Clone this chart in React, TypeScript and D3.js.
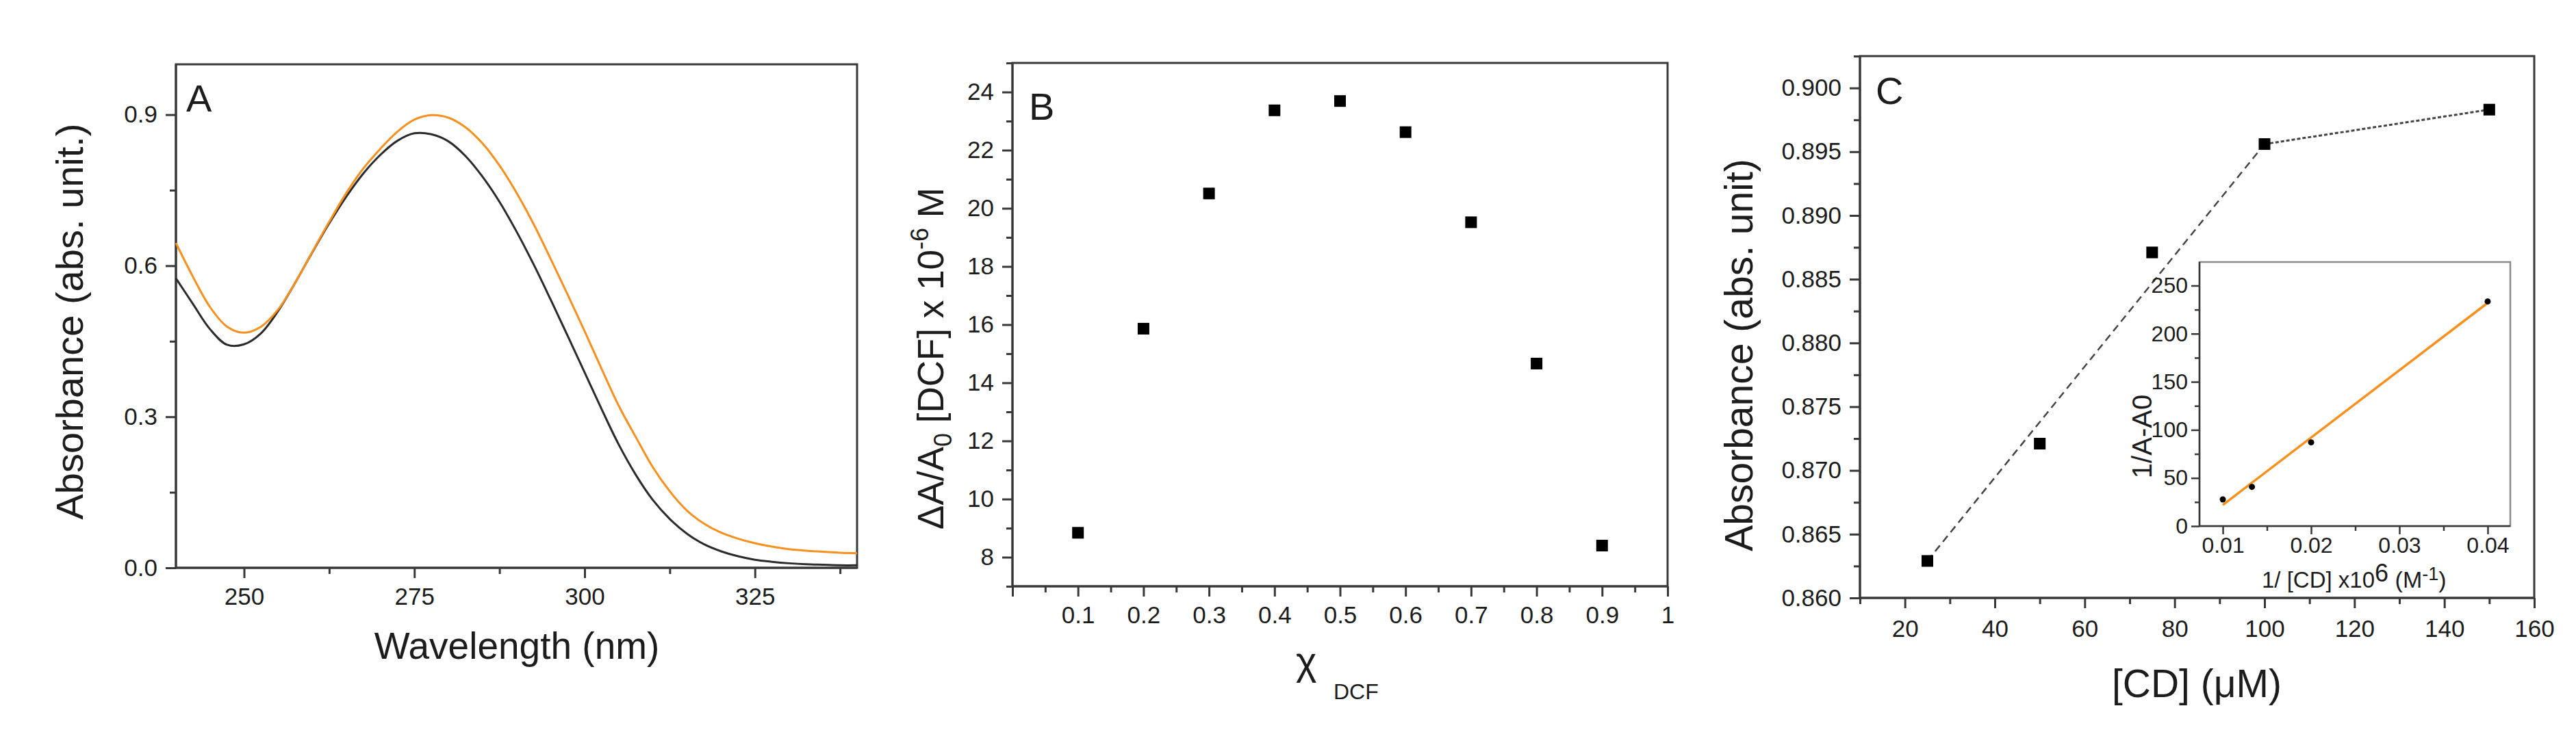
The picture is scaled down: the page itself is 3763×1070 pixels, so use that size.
import { useRef, useEffect } from 'react';
import * as d3 from 'd3';

// Panel A: UV-vis spectra
const wavelength = [
  240, 242.5, 245, 247.5, 250, 252.5, 255, 257.5, 260, 262.5, 265, 267.5, 270, 272.5, 275, 277.5, 280,
  282.5, 285, 287.5, 290, 292.5, 295, 297.5, 300, 302.5, 305, 307.5, 310, 312.5, 315, 317.5, 320, 322.5,
  325, 327.5, 330, 332.5, 335, 337.5, 340,
];
const absFree = [
  0.575, 0.524, 0.474, 0.443, 0.444, 0.466, 0.51, 0.566, 0.626, 0.684, 0.737, 0.783, 0.82, 0.848, 0.863,
  0.861, 0.847, 0.818, 0.777, 0.727, 0.668, 0.603, 0.533, 0.461, 0.388, 0.315, 0.245, 0.185, 0.135, 0.097,
  0.068, 0.047, 0.033, 0.023, 0.016, 0.012, 0.009, 0.007, 0.006, 0.005, 0.005,
];
const absComplex = [
  0.645, 0.578, 0.518, 0.479, 0.467, 0.479, 0.513, 0.566, 0.627, 0.687, 0.744, 0.793, 0.832, 0.866, 0.89,
  0.899, 0.894, 0.875, 0.843, 0.799, 0.745, 0.683, 0.614, 0.543, 0.47, 0.395, 0.322, 0.26, 0.2, 0.152,
  0.114, 0.088, 0.07, 0.058, 0.049, 0.042, 0.037, 0.034, 0.032, 0.03, 0.029,
];
const aXTicks = [250, 275, 300, 325];
const aXMinor = [262.5, 287.5, 312.5, 337.5];
const aYTicks = [0, 0.3, 0.6, 0.9];
const aYMinor = [0.15, 0.45, 0.75];

// Panel B: Job plot
const molarFraction = [0.1, 0.2, 0.3, 0.4, 0.5, 0.6, 0.7, 0.8, 0.9];
const jobSignal = [8.84, 15.86, 20.51, 23.37, 23.69, 22.62, 19.52, 14.66, 8.4];
const bXTicks = [0, 0.1, 0.2, 0.3, 0.4, 0.5, 0.6, 0.7, 0.8, 0.9, 1];
const bXMinor = [0.05, 0.15, 0.25, 0.35, 0.45, 0.55, 0.65, 0.75, 0.85, 0.95];
const bYTicks = [8, 10, 12, 14, 16, 18, 20, 22, 24];
const bYMinor = [7, 9, 11, 13, 15, 17, 19, 21, 23, 25];

// Panel C: titration
const cdConc = [25, 50, 75, 100, 150];
const cdAbs = [0.8629, 0.8721, 0.8871, 0.8956, 0.8983];
const cXTicks = [20, 40, 60, 80, 100, 120, 140, 160];
const cXMinor = [10, 30, 50, 70, 90, 110, 130, 150];
const cYTicks = [0.86, 0.865, 0.87, 0.875, 0.88, 0.885, 0.89, 0.895, 0.9];
const cYMinor = [0.8625, 0.8675, 0.8725, 0.8775, 0.8825, 0.8875, 0.8925, 0.8975, 0.9025];

// Inset: double reciprocal
const invConc = [0.01, 0.0133, 0.02, 0.04];
const invDeltaA = [27.7, 40.8, 87, 233.5];
const fitInvConc = [0.01, 0.04];
const fitInvDeltaA = [22, 232];
const iXTicks = [0.01, 0.02, 0.03, 0.04];
const iXMinor = [0.015, 0.025, 0.035];
const iYTicks = [0, 50, 100, 150, 200, 250];
const iYMinor = [25, 75, 125, 175, 225];

const FONT = "'Liberation Sans', Arial, Helvetica, sans-serif";
const INK = '#383838';
const TEXT = '#1c1c1c';
const ORANGE = '#f7901e';

function drawFrame(svg, x, y, o) {
  const [left, right] = x.range();
  const [bottom, top] = y.range();
  const g = svg.append('g');

  g.append('rect')
    .attr('x', left)
    .attr('y', top)
    .attr('width', right - left)
    .attr('height', bottom - top)
    .attr('fill', o.fill || 'none')
    .attr('stroke', o.boxInk || INK)
    .attr('stroke-width', o.width);

  const styleAxis = (sel) => {
    sel.select('.domain').remove();
    sel.selectAll('line').attr('stroke', INK).attr('stroke-width', o.width);
    sel
      .selectAll('text')
      .attr('fill', TEXT)
      .style('font-size', `${o.fontSize}px`)
      .style('font-family', FONT);
  };

  g.append('g')
    .attr('transform', `translate(0,${bottom})`)
    .call(d3.axisBottom(x).tickValues(o.xMinor).tickSize(o.minor).tickFormat(() => ''))
    .call(styleAxis);
  g.append('g')
    .attr('transform', `translate(0,${bottom})`)
    .call(d3.axisBottom(x).tickValues(o.xTicks).tickSize(o.major).tickPadding(o.xPad).tickFormat(o.xFormat))
    .call(styleAxis);
  g.append('g')
    .attr('transform', `translate(${left},0)`)
    .call(d3.axisLeft(y).tickValues(o.yMinor).tickSize(o.minor).tickFormat(() => ''))
    .call(styleAxis);
  g.append('g')
    .attr('transform', `translate(${left},0)`)
    .call(d3.axisLeft(y).tickValues(o.yTicks).tickSize(o.major).tickPadding(o.yPad).tickFormat(o.yFormat))
    .call(styleAxis);

  // axis lines drawn on top of the box
  g.append('line')
    .attr('x1', left).attr('x2', right).attr('y1', bottom).attr('y2', bottom)
    .attr('stroke', INK).attr('stroke-width', o.width);
  g.append('line')
    .attr('x1', left).attr('x2', left).attr('y1', top).attr('y2', bottom)
    .attr('stroke', INK).attr('stroke-width', o.width);
  return g;
}

function label(svg, x, y, size, txt, anchor = 'start') {
  return svg
    .append('text')
    .attr('x', x)
    .attr('y', y)
    .attr('text-anchor', anchor)
    .attr('fill', TEXT)
    .style('font-family', FONT)
    .style('font-size', `${size}px`)
    .text(txt);
}

function App() {
  const svgRef = useRef(null);
  const width = 3763;
  const height = 1070;

  useEffect(() => {
    document.body.style.margin = '0';
    const svg = d3.select(svgRef.current);
    svg.selectAll('*').remove();
    svg.append('rect').attr('width', width).attr('height', height).attr('fill', '#fff');

    // ---------- Panel A ----------
    const xA = d3.scaleLinear().domain([240, 340]).range([257, 1252]);
    const yA = d3.scaleLinear().domain([0, 1]).range([830, 94]);
    drawFrame(svg, xA, yA, {
      width: 3, major: 15, minor: 9, fontSize: 35, xPad: 14, yPad: 12,
      xTicks: aXTicks, xMinor: aXMinor, yTicks: aYTicks, yMinor: aYMinor,
      xFormat: d3.format('d'), yFormat: d3.format('.1f'),
    });
    const lineA = (vals) =>
      d3.line().x((_, i) => xA(wavelength[i])).y((d) => yA(d)).curve(d3.curveCatmullRom.alpha(0.5))(vals);
    svg.append('path').attr('d', lineA(absFree)).attr('fill', 'none').attr('stroke', '#2b2b2b').attr('stroke-width', 3);
    svg.append('path').attr('d', lineA(absComplex)).attr('fill', 'none').attr('stroke', ORANGE).attr('stroke-width', 3);
    label(svg, 272, 163, 56, 'A');
    label(svg, 755, 963, 55, 'Wavelength (nm)', 'middle');
    label(svg, 0, 0, 56, 'Absorbance (abs. unit.)', 'middle').attr('transform', 'translate(121,470) rotate(-90)');

    // ---------- Panel B ----------
    const xB = d3.scaleLinear().domain([0, 1]).range([1479, 2436]);
    const yB = d3.scaleLinear().domain([7, 25]).range([857, 92]);
    drawFrame(svg, xB, yB, {
      width: 3, major: 15, minor: 9, fontSize: 35, xPad: 14, yPad: 12,
      xTicks: bXTicks, xMinor: bXMinor, yTicks: bYTicks, yMinor: bYMinor,
      xFormat: (d) => (d === 0 ? '' : d === 1 ? '1' : d.toFixed(1)), yFormat: d3.format('d'),
    });
    const sqB = 17;
    svg
      .append('g')
      .selectAll('rect')
      .data(molarFraction)
      .join('rect')
      .attr('x', (d) => xB(d) - sqB / 2)
      .attr('y', (_, i) => yB(jobSignal[i]) - sqB / 2)
      .attr('width', sqB)
      .attr('height', sqB)
      .attr('fill', '#000');
    label(svg, 1503, 175, 56, 'B');
    label(svg, 1893, 986, 58, 'χ');
    label(svg, 1948, 1022, 32, 'DCF');
    const tB = svg
      .append('text')
      .attr('transform', 'translate(1378,524) rotate(-90)')
      .attr('text-anchor', 'middle')
      .attr('fill', TEXT)
      .style('font-family', FONT)
      .style('font-size', '53px');
    tB.append('tspan').text('ΔA/A');
    tB.append('tspan').attr('dy', 12).style('font-size', '36px').text('0');
    tB.append('tspan').attr('dy', -12).text(' [DCF] x 10');
    tB.append('tspan').attr('dy', -22).style('font-size', '36px').text('-6');
    tB.append('tspan').attr('dy', 22).text(' M');

    // ---------- Panel C ----------
    const xC = d3.scaleLinear().domain([10, 160]).range([2717, 3702]);
    const yC = d3.scaleLinear().domain([0.86, 0.9025]).range([874, 82]);
    drawFrame(svg, xC, yC, {
      width: 3, major: 15, minor: 9, fontSize: 35, xPad: 17, yPad: 12,
      xTicks: cXTicks, xMinor: cXMinor, yTicks: cYTicks, yMinor: cYMinor,
      xFormat: d3.format('d'), yFormat: d3.format('.3f'),
    });
    const lineC = d3.line().x((d) => xC(d[0])).y((d) => yC(d[1]));
    const pts = cdConc.map((c, i) => [c, cdAbs[i]]);
    svg.append('path').attr('d', lineC([pts[0], pts[3]]))
      .attr('fill', 'none').attr('stroke', '#444').attr('stroke-width', 2.5).attr('stroke-dasharray', '11,7');
    svg.append('path').attr('d', lineC([pts[3], pts[4]]))
      .attr('fill', 'none').attr('stroke', '#444').attr('stroke-width', 3).attr('stroke-dasharray', '5,3');
    const sqC = 17;
    svg
      .append('g')
      .selectAll('rect')
      .data(pts)
      .join('rect')
      .attr('x', (d) => xC(d[0]) - sqC / 2)
      .attr('y', (d) => yC(d[1]) - sqC / 2)
      .attr('width', sqC)
      .attr('height', sqC)
      .attr('fill', '#000');
    label(svg, 2740, 152, 56, 'C');
    label(svg, 3209, 1019, 57, '[CD] (μM)', 'middle');
    label(svg, 0, 0, 57, 'Absorbance (abs. unit)', 'middle').attr('transform', 'translate(2560,519) rotate(-90)');

    // ---------- Inset ----------
    const xI = d3.scaleLinear().domain([0.00736, 0.04256]).range([3213, 3667]);
    const yI = d3.scaleLinear().domain([0, 274.5]).range([769, 383]);
    drawFrame(svg, xI, yI, {
      width: 2.5, major: 12, minor: 7, fontSize: 32, xPad: 4, yPad: 5,
      fill: '#fff', boxInk: '#8a8a8a',
      xTicks: iXTicks, xMinor: iXMinor, yTicks: iYTicks, yMinor: iYMinor,
      xFormat: d3.format('.2f'), yFormat: d3.format('d'),
    });
    svg.append('path')
      .attr('d', d3.line().x((d) => xI(d[0])).y((d) => yI(d[1]))(fitInvConc.map((c, i) => [c, fitInvDeltaA[i]])))
      .attr('fill', 'none').attr('stroke', ORANGE).attr('stroke-width', 3.5);
    svg
      .append('g')
      .selectAll('circle')
      .data(invConc)
      .join('circle')
      .attr('cx', (d) => xI(d))
      .attr('cy', (_, i) => yI(invDeltaA[i]))
      .attr('r', 4.5)
      .attr('fill', '#000');
    label(svg, 0, 0, 40, '1/A-A0', 'middle').attr('transform', 'translate(3143,638) rotate(-90)');
    const tI = svg
      .append('text')
      .attr('x', 3304)
      .attr('y', 859)
      .attr('fill', TEXT)
      .style('font-family', FONT)
      .style('font-size', '33px');
    tI.append('tspan').text('1/ [CD] x10');
    tI.append('tspan').attr('dy', -9).style('font-size', '36px').text('6');
    tI.append('tspan').attr('dy', 9).style('font-size', '34px').text(' (M');
    tI.append('tspan').attr('dy', -11).style('font-size', '27px').text('-1');
    tI.append('tspan').attr('dy', 11).style('font-size', '34px').text(')');
  }, []);

  return (
    <svg
      ref={svgRef}
      width={width}
      height={height}
      style={{ position: 'absolute', left: 0, top: 0, display: 'block' }}
    ></svg>
  );
}

export default App;
